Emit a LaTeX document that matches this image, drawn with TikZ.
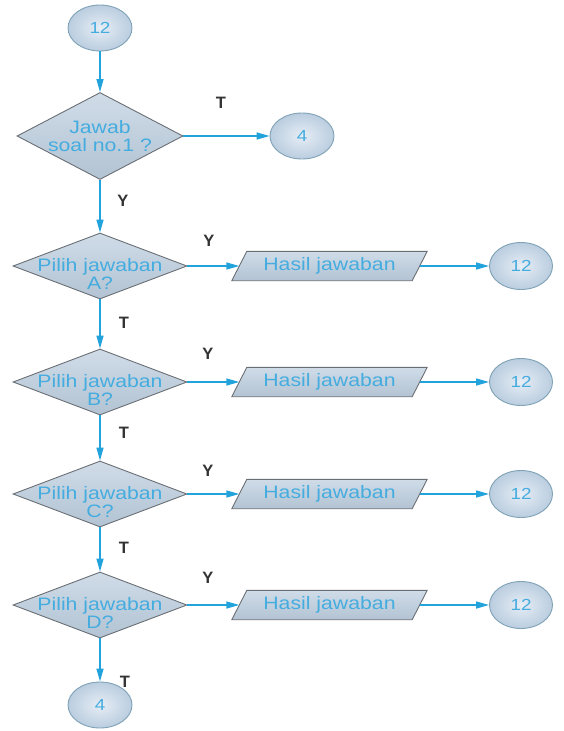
\documentclass[tikz,border=0pt]{standalone}
\usepackage{fontspec}
\setmainfont{Liberation Sans}[FakeStretch=1.18]
\newfontfamily\lblfont{Liberation Sans}
\usetikzlibrary{shapes.geometric,arrows.meta}

\definecolor{txtblue}{HTML}{45ACDF}
\definecolor{linkblue}{HTML}{22A3DB}
\definecolor{edgegray}{HTML}{6A6F75}
\definecolor{fillhi}{HTML}{D0DCE8}
\definecolor{filllo}{HTML}{B2C3D3}
\definecolor{ballin}{HTML}{E6EDF5}
\definecolor{ballout}{HTML}{BACDDF}
\definecolor{balledge}{HTML}{7FA2B6}

\tikzset{
  decision/.style={diamond, draw=edgegray, line width=0.9pt,
    top color=fillhi, bottom color=filllo, inner sep=0pt},
  dtext/.style={text=txtblue, align=center, inner sep=0pt,
    font=\fontsize{18}{18}\selectfont},
  connector/.style={ellipse, draw=balledge, line width=0.9pt,
    shading=radial, inner color=ballin, outer color=ballout,
    minimum width=64pt, minimum height=46pt, inner sep=0pt,
    text=txtblue, font=\fontsize{16}{16}\selectfont},
  iobox/.style={rectangle, minimum width=180pt, minimum height=29pt,
    inner sep=0pt, text=txtblue, font=\fontsize{18}{18}\selectfont},
  ioshape/.style={draw=edgegray, line width=0.9pt,
    top color=fillhi, bottom color=filllo},
  link/.style={draw=linkblue, line width=1.4pt,
    -{Triangle[length=13pt,width=7pt]}},
  branch/.style={text=black!80, inner sep=0pt,
    font=\lblfont\bfseries\fontsize{16.5}{16.5}\selectfont}
}

\newcommand{\slanted}[1]{%
  \path[ioshape] ([xshift=7.5pt]#1.north west) -- ([xshift=7.5pt]#1.north east)
    -- ([xshift=-7.5pt]#1.south east) -- ([xshift=-7.5pt]#1.south west) -- cycle;}

\begin{document}
\begin{tikzpicture}[x=1pt, y=-1pt]
  \fill[white] (0,0) rectangle (563,731);
  \useasboundingbox (0,0) rectangle (563,731);

  % entry connector and first question
  \node[connector] (start) at (100,28) {12};
  \node[decision, minimum width=166pt, minimum height=87pt] (q1) at (100,136) {};
  \node[dtext] (q1t) at (q1.center) {Jawab\\soal no.1 ?};
  \node[connector] (skip) at (302,136) {4};

  % answer choices A-D
  \foreach \k/\yy in {A/266, B/382, C/494, D/605} {
    \node[decision, minimum width=174pt, minimum height=66pt] (q\k) at (100,\yy) {};
    \node[dtext] (q\k t) at ([yshift=-8pt]q\k.center) {Pilih jawaban\\\k?};
    \node[iobox] (out\k) at (329.5,\yy) {};
    \slanted{out\k}
    \node[iobox] (out\k t) at (out\k.center) {Hasil jawaban};
    \node[connector, minimum width=63pt, minimum height=47pt] (back\k) at (521,\yy) {12};
    \draw[link] (q\k.east) -- (out\k.west);
    \draw[link] (out\k.east) -- (back\k.west);
  }

  \node[connector] (finish) at (100,705) {4};

  % vertical flow
  \draw[link] (start.south) -- (q1.north);
  \draw[link] (q1.east) -- (skip.west);
  \draw[link] (q1.south) -- (qA.north);
  \draw[link] (qA.south) -- (qB.north);
  \draw[link] (qB.south) -- (qC.north);
  \draw[link] (qC.south) -- (qD.north);
  \draw[link] (qD.south) -- (finish.north);

  % branch labels
  \node[branch] (l1) at (221,103) {T};
  \node[branch] (l2) at (123,201) {Y};
  \node[branch] (l3) at (209,241) {Y};
  \node[branch] (l4) at (124,323) {T};
  \node[branch] (l5) at (208,354) {Y};
  \node[branch] (l6) at (124,433) {T};
  \node[branch] (l7) at (208,471) {Y};
  \node[branch] (l8) at (124,548) {T};
  \node[branch] (l9) at (208,578) {Y};
  \node[branch] (l10) at (125,682) {T};
\end{tikzpicture}
\end{document}
